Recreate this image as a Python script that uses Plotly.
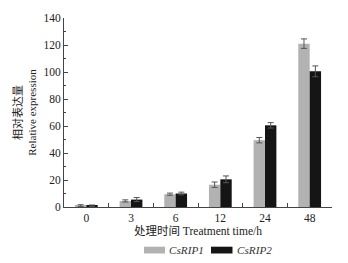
import plotly.graph_objects as go

categories = ["0", "3", "6", "12", "24", "48"]
rip1 = [1.0, 4.5, 9.5, 16.5, 49.5, 121.0]
rip1_err = [0.7, 0.8, 0.8, 2.0, 2.0, 3.5]
rip2 = [1.0, 5.5, 10.0, 20.5, 60.5, 100.5]
rip2_err = [0.5, 1.5, 1.0, 2.5, 2.0, 4.0]
series_names = ["CsRIP1", "CsRIP2"]
series_colors = ["#b2b2b2", "#151515"]
y_ticks = [0, 20, 40, 60, 80, 100, 120, 140]

FONT = "Liberation Serif, Noto Sans CJK SC, serif"

fig = go.Figure()
for vals, errs, name, col in [(rip1, rip1_err, series_names[0], series_colors[0]),
                              (rip2, rip2_err, series_names[1], series_colors[1])]:
    fig.add_trace(go.Bar(
        x=categories, y=vals, name=name, showlegend=False,
        marker=dict(color=col, line=dict(width=0)),
        error_y=dict(type="data", array=errs, color="#555555", thickness=1, width=3),
    ))

# custom legend (wide swatches like the original)
legend_y = -0.2256
swatches = [(0.2985, 0.3769, 0.384), (0.5485, 0.6287, 0.638)]
for (x0, x1, xt), name, col in zip(swatches, series_names, series_colors):
    fig.add_shape(type="rect", xref="paper", yref="paper", x0=x0, x1=x1,
                  y0=-0.246, y1=-0.210, fillcolor=col, line=dict(width=0))
    fig.add_annotation(xref="paper", yref="paper", x=xt, y=legend_y,
                       xanchor="left", yanchor="middle", showarrow=False,
                       text=f"<i>{name}</i>", font=dict(size=11.2, color="#333333"))

fig.update_layout(
    width=348, height=263,
    margin=dict(l=64, r=16, t=12, b=56),
    paper_bgcolor="white", plot_bgcolor="white",
    font=dict(family=FONT, size=11.5, color="#222222"),
    barmode="group", bargap=0.49, bargroupgap=0,
    showlegend=False,
)
fig.update_xaxes(
    type="category", showline=True, linecolor="#444444", linewidth=1,
    ticks="inside", tickson="boundaries", ticklen=4, tickcolor="#444444",
    showgrid=False, zeroline=False,
    title=dict(text="处理时间 Treatment time/h", font=dict(size=11.5), standoff=4),
    tickfont=dict(size=11.5),
)
fig.update_yaxes(
    range=[0, 140], tickvals=y_ticks, showline=True, linecolor="#444444", linewidth=1,
    ticks="inside", ticklen=4, tickcolor="#444444",
    minor=dict(ticks="inside", dtick=10, ticklen=2, tickcolor="#444444"),
    showgrid=False, zeroline=False,
    title=dict(text="相对表达量<br>Relative expression", font=dict(size=11), standoff=4),
    tickfont=dict(size=11.5),
)

fig.write_html("out.html", config={"displayModeBar": False},
               post_script="document.body.style.margin='0';")
